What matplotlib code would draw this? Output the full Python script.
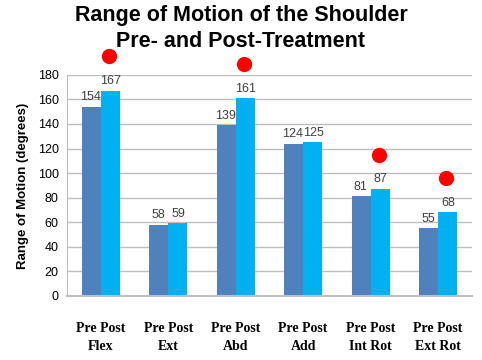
import numpy as np
import matplotlib
matplotlib.use("Agg")
import matplotlib.pyplot as plt

categories = ["Flex", "Ext", "Abd", "Add", "Int Rot", "Ext Rot"]
pre_values = [154, 58, 139, 124, 81, 55]
post_values = [167, 59, 161, 125, 87, 68]
# red markers flag the post-treatment bars that improved
flagged = [True, False, True, False, True, True]
yticks = list(range(0, 181, 20))

PRE_COLOR = "#4F81BD"
POST_COLOR = "#00B0F0"
GRID_COLOR = "#BFBFBF"

fig = plt.figure(figsize=(4.82, 3.6), dpi=100)
ax = fig.add_axes([0.139, 0.178, 0.84, 0.614])

x = np.arange(len(categories))
w = 0.28
ax.bar(x - w / 2, pre_values, w, color=PRE_COLOR, zorder=2)
ax.bar(x + w / 2, post_values, w, color=POST_COLOR, zorder=2)

for xi, v in zip(x - w / 2, pre_values):
    ax.text(xi - 0.01, v + 3, str(v), ha="center", va="bottom", fontsize=9,
            color="#404040", family="Liberation Sans")
for xi, v, f in zip(x + w / 2, post_values, flagged):
    ax.text(xi + 0.01, v + 3, str(v), ha="center", va="bottom", fontsize=9,
            color="#404040", family="Liberation Sans")
    if f:
        ax.plot(xi - 0.02, v + 28, "o", color="#FF0000", markersize=10,
                zorder=5, clip_on=False)

ax.set_xlim(-0.5, len(categories) - 0.5)
ax.set_ylim(0, 180)
ax.set_yticks(yticks)
ax.set_yticklabels([str(t) for t in yticks], fontsize=9, family="Liberation Sans")
ax.yaxis.grid(True, color=GRID_COLOR, linewidth=1, zorder=0)
ax.set_axisbelow(True)
ax.tick_params(axis="y", length=0, pad=6, colors="#000000")
ax.tick_params(axis="x", length=0)
ax.set_xticks(x)
ax.set_xticklabels(["Pre Post\n" + c for c in categories], fontsize=10,
                   family="Liberation Serif", fontweight="bold", linespacing=1.45)
ax.tick_params(axis="x", pad=19)
for s in ["top", "right"]:
    ax.spines[s].set_visible(False)
ax.spines["left"].set_color(GRID_COLOR)
ax.spines["bottom"].set_color(GRID_COLOR)
ax.spines["bottom"].set_linewidth(1.5)

ax.set_ylabel("Range of Motion (degrees)", fontsize=9.5, fontweight="bold",
              family="Liberation Sans", labelpad=6)

fig.text(0.5, 0.985, "Range of Motion of the Shoulder\nPre- and Post-Treatment",
         ha="center", va="top", fontsize=15.5, fontweight="bold",
         family="Liberation Sans", linespacing=1.3)

fig.savefig("out.png", dpi=100)
